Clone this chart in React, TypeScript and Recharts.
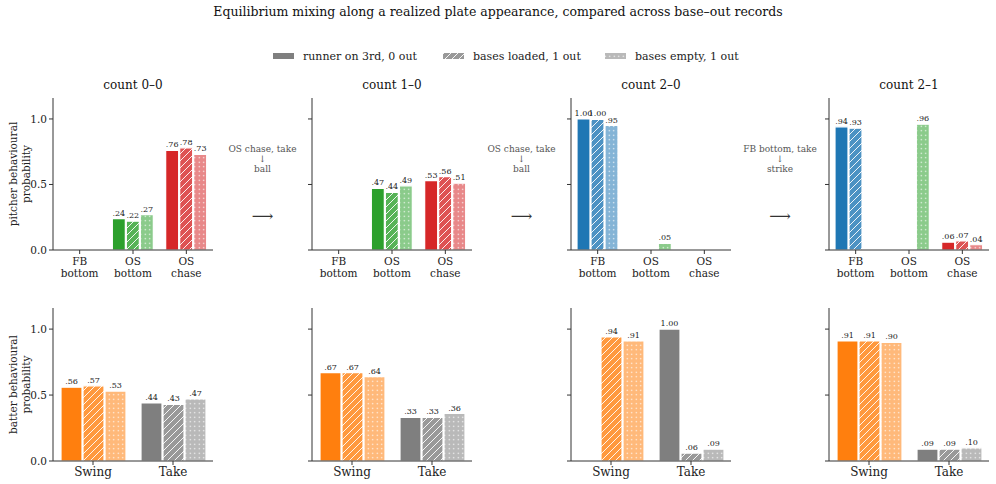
import React from "react";
import { BarChart, Bar, XAxis, YAxis, Cell, LabelList } from "recharts";

const FONT = "'DejaVu Serif', serif";

const title = "Equilibrium mixing along a realized plate appearance, compared across base–out records";
const counts = ["count 0–0", "count 1–0", "count 2–0", "count 2–1"];
const records = ["runner on 3rd, 0 out", "bases loaded, 1 out", "bases empty, 1 out"];
const pitchTypes = ["FB bottom", "OS bottom", "OS chase"];
const batterActions = ["Swing", "Take"];
const pitchColors = ["#1f77b4", "#2ca02c", "#d62728"];
const batterColors = ["#ff7f0e", "#7f7f7f"];
const yTicks = [0, 0.5, 1];

// per count: [FB bottom, OS bottom, OS chase]
const pitcherRunner3rd = [[null, 0.24, 0.76], [null, 0.47, 0.53], [1.0, null, null], [0.94, null, 0.06]];
const pitcherBasesLoaded = [[null, 0.22, 0.78], [null, 0.44, 0.56], [0.996, null, null], [0.93, null, 0.07]];
const pitcherBasesEmpty = [[null, 0.27, 0.73], [null, 0.49, 0.51], [0.95, 0.05, null], [null, 0.96, 0.04]];

// per count: [Swing, Take]
const batterRunner3rd = [[0.56, 0.44], [0.67, 0.33], [null, 1.0], [0.91, 0.09]];
const batterBasesLoaded = [[0.57, 0.43], [0.67, 0.33], [0.94, 0.06], [0.91, 0.09]];
const batterBasesEmpty = [[0.53, 0.47], [0.64, 0.36], [0.91, 0.09], [0.9, 0.1]];

// transitions between counts: [action, result]
const transitions = [
  ["OS chase, take", "ball"],
  ["OS chase, take", "ball"],
  ["FB bottom, take", "strike"],
];

const COL_LEFT = [53, 312, 571, 829];
const PLOT_W = 160;
const Y_W = 45;
const MT = 10;
const X_H = 30;

// blend a hex colour with white (matplotlib alpha look)
const tint = (hex: string, a: number) => {
  const n = parseInt(hex.slice(1), 16);
  const ch = [(n >> 16) & 255, (n >> 8) & 255, n & 255].map((c) =>
    Math.round(a * c + (1 - a) * 255)
  );
  return "#" + ch.map((c) => c.toString(16).padStart(2, "0")).join("");
};

const pid = (kind: string, hex: string) => `${kind}-${hex.slice(1)}`;

function Patterns() {
  const all = [...pitchColors, ...batterColors];
  return (
    <svg width={0} height={0} style={{ position: "absolute" }}>
      <defs>
        {all.map((c) => (
          <React.Fragment key={c}>
            <pattern id={pid("hatch", c)} patternUnits="userSpaceOnUse" width={7} height={7}>
              <rect width={7} height={7} fill={tint(c, 0.8)} />
              <path d="M-1,1 l2,-2 M0,7 l7,-7 M6,8 l2,-2" stroke="#fff" strokeWidth={0.9} />
            </pattern>
            <pattern id={pid("dots", c)} patternUnits="userSpaceOnUse" width={4.5} height={4.5}>
              <rect width={4.5} height={4.5} fill={tint(c, 0.55)} />
              <circle cx={2.25} cy={2.25} r={0.7} fill="#fff" />
            </pattern>
          </React.Fragment>
        ))}
      </defs>
    </svg>
  );
}

const fmt = (v: number) => {
  const s = v.toFixed(2);
  return s.startsWith("0") ? s.slice(1) : s;
};

function ValueLabel(props: any) {
  const { x, y, width, value } = props;
  if (value == null) return null;
  return (
    <text
      x={x + width / 2}
      y={y - 3}
      textAnchor="middle"
      fontSize={8}
      fontFamily={FONT}
      fill="#222"
    >
      {fmt(value)}
    </text>
  );
}

function MultiLineTick(props: any) {
  const { x, y, payload, fontSize, split } = props;
  const lines: string[] = split ? String(payload.value).split(" ") : [payload.value];
  return (
    <text x={x} y={y} textAnchor="middle" fontSize={fontSize} fontFamily={FONT} fill="#222">
      {lines.map((l, i) => (
        <tspan key={i} x={x} dy={i === 0 ? 9 : 12}>
          {l}
        </tspan>
      ))}
    </text>
  );
}

interface PanelProps {
  col: number;
  plotTop: number;
  plotH: number;
  categories: string[];
  colors: string[];
  a: (number | null)[];
  b: (number | null)[];
  c: (number | null)[];
  barSize: number;
  split: boolean;
  tickFont: number;
}

function Panel({ col, plotTop, plotH, categories, colors, a, b, c, barSize, split, tickFont }: PanelProps) {
  const data = categories.map((name, i) => ({ name, r3: a[i], bl: b[i], be: c[i] }));
  const width = Y_W + PLOT_W + 6;
  const height = MT + plotH + X_H;
  return (
    <div style={{ position: "absolute", left: COL_LEFT[col] - Y_W, top: plotTop - MT }}>
      <BarChart
        width={width}
        height={height}
        data={data}
        margin={{ top: MT, right: 6, left: 0, bottom: 0 }}
        barGap={1}
        barSize={barSize}
      >
        <XAxis
          dataKey="name"
          interval={0}
          height={X_H}
          tickSize={4}
          stroke="#333"
          tickLine={{ stroke: "#333" }}
          axisLine={{ stroke: "#333" }}
          tick={<MultiLineTick fontSize={tickFont} split={split} />}
        />
        <YAxis
          type="number"
          domain={[0, 1.16]}
          ticks={yTicks}
          allowDataOverflow
          width={Y_W}
          tickSize={4}
          stroke="#333"
          tickLine={{ stroke: "#333" }}
          axisLine={{ stroke: "#333" }}
          tick={{ fontSize: 10.5, fill: "#222", fontFamily: FONT }}
          tickFormatter={(v: number) => (col === 0 ? v.toFixed(1) : "")}
        />
        <Bar dataKey="r3" isAnimationActive={false} stroke="#fff" strokeWidth={1.2}>
          {colors.map((cl) => (
            <Cell key={cl} fill={cl} />
          ))}
          <LabelList dataKey="r3" content={<ValueLabel />} />
        </Bar>
        <Bar dataKey="bl" isAnimationActive={false} stroke="#fff" strokeWidth={1.2}>
          {colors.map((cl) => (
            <Cell key={cl} fill={`url(#${pid("hatch", cl)})`} />
          ))}
          <LabelList dataKey="bl" content={<ValueLabel />} />
        </Bar>
        <Bar dataKey="be" isAnimationActive={false} stroke="#fff" strokeWidth={1.2}>
          {colors.map((cl) => (
            <Cell key={cl} fill={`url(#${pid("dots", cl)})`} />
          ))}
          <LabelList dataKey="be" content={<ValueLabel />} />
        </Bar>
      </BarChart>
    </div>
  );
}

const TOP_Y = 98;
const TOP_H = 152;
const BOT_Y = 308;
const BOT_H = 153;

export default function App() {
  const legendX = [273, 443, 605];
  const legendFill = ["#7f7f7f", `url(#${pid("hatch", "#7f7f7f")})`, `url(#${pid("dots", "#7f7f7f")})`];
  return (
    <div style={{ position: "relative", width: 996, height: 484, background: "#fff", fontFamily: FONT }}>
      <style>{"body{margin:0}"}</style>
      <Patterns />
      {counts.map((_, i) => (
        <Panel
          key={"p" + i}
          col={i}
          plotTop={TOP_Y}
          plotH={TOP_H}
          categories={pitchTypes}
          colors={pitchColors}
          a={pitcherRunner3rd[i]}
          b={pitcherBasesLoaded[i]}
          c={pitcherBasesEmpty[i]}
          barSize={13}
          split
          tickFont={10.5}
        />
      ))}
      {counts.map((_, i) => (
        <Panel
          key={"b" + i}
          col={i}
          plotTop={BOT_Y}
          plotH={BOT_H}
          categories={batterActions}
          colors={batterColors}
          a={batterRunner3rd[i]}
          b={batterBasesLoaded[i]}
          c={batterBasesEmpty[i]}
          barSize={21}
          split={false}
          tickFont={12}
        />
      ))}
      <svg
        width={996}
        height={484}
        style={{ position: "absolute", left: 0, top: 0, pointerEvents: "none" }}
        fontFamily={FONT}
      >
        <text x={498} y={16} textAnchor="middle" fontSize={12.5} fill="#111">
          {title}
        </text>
        {records.map((r, i) => (
          <g key={r}>
            <rect x={legendX[i]} y={53} width={21} height={6} fill={legendFill[i]} />
            <text x={legendX[i] + 30} y={60} fontSize={11} fill="#222">
              {r}
            </text>
          </g>
        ))}
        {counts.map((c, i) => (
          <text key={c} x={COL_LEFT[i] + PLOT_W / 2} y={89} textAnchor="middle" fontSize={12} fill="#111">
            {c}
          </text>
        ))}
        {transitions.map(([act, res], i) => {
          const cx = (COL_LEFT[i] + PLOT_W + COL_LEFT[i + 1]) / 2;
          return (
            <g key={i} fill="#555" fontSize={9} textAnchor="middle">
              <text x={cx} y={152}>{act}</text>
              <text x={cx} y={162}>↓</text>
              <text x={cx} y={172}>{res}</text>
              <text x={cx} y={221} fontSize={15} fill="#333">⟶</text>
            </g>
          );
        })}
        <g fontSize={10.5} fill="#222" textAnchor="middle">
          <text transform={`translate(17,${TOP_Y + TOP_H / 2}) rotate(-90)`}>pitcher behavioural</text>
          <text transform={`translate(30,${TOP_Y + TOP_H / 2}) rotate(-90)`}>probability</text>
          <text transform={`translate(17,${BOT_Y + BOT_H / 2}) rotate(-90)`}>batter behavioural</text>
          <text transform={`translate(30,${BOT_Y + BOT_H / 2}) rotate(-90)`}>probability</text>
        </g>
      </svg>
    </div>
  );
}
